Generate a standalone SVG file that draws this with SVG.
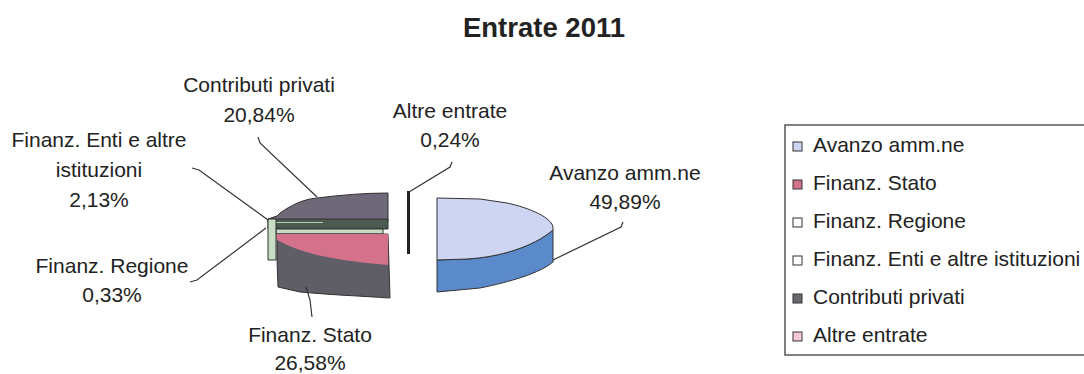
<svg xmlns="http://www.w3.org/2000/svg" width="1084" height="374" viewBox="0 0 1084 374">
<style>
text{font-family:"Liberation Sans",Arial,sans-serif;fill:#222}
.t{font-size:27.5px;font-weight:bold;text-anchor:middle}
.l{font-size:21px;text-anchor:middle}
.g{font-size:21px}
.o{stroke:#333;stroke-width:1;stroke-linejoin:round}
.c{fill:none;stroke:#333;stroke-width:1.2}
.sq{stroke:#333;stroke-width:1}
</style>
<rect width="1084" height="374" fill="#fff"/>
<text class="t" x="544" y="37">Entrate 2011</text>

<g id="slice-contributi">
<path class="o" fill="#6e6878" d="M268,222 L268,219 L277,216 L280,213 C290,206 303,199 317,198 C340,195 365,193 388,193 L388,222 Z"/>
</g>
<g id="slice-enti">
<rect x="268" y="219" width="120" height="10" fill="#4c5a52" class="o"/>
<line x1="274" y1="222.5" x2="323" y2="222.5" stroke="#b9ccb5" stroke-width="1"/>
<rect x="276" y="229" width="107" height="5" fill="#c9dcc5" class="o"/>
</g>
<g id="slice-regione">
<rect x="268" y="219" width="8" height="41" fill="#c9dcc5" class="o"/>
</g>
<g id="slice-stato">
<path class="o" fill="#5f5d65" d="M277,234 L388,234 L390,298 C360,296 333,295 300,292 L278,287 L277,260 Z"/>
<path fill="#d4728c" d="M277,234 L388,234 L388,265 C360,263 330,258 317,255 C305,252 292,248 277,240 Z"/>
</g>
<g id="slice-altre">
<rect x="407" y="191" width="3" height="63" fill="#222"/>
</g>
<g id="slice-avanzo">
<path class="o" fill="#5b8acb" d="M437,260 L467,259 C500,257 533,247 553,230 L553,262 C540,273 510,282 480,288 L437,292 Z"/>
<path class="o" fill="#cdd5f3" d="M437,198 L480,199 L507,203 C530,208 553,218 553,228 L553,230 C533,247 500,257 467,259 L437,260 Z"/>
</g>

<g id="connectors">
<path class="c" d="M258,137 L260,143 L317,197"/>
<path class="c" d="M192,168 L199,170 L268,220"/>
<path class="c" d="M190,282 L197,280 L266,228"/>
<path class="c" d="M306,287 L310,300 L312,317"/>
<path class="c" d="M452,162 L450,167 L409,192"/>
<path class="c" d="M553,260 L621,227 L623,222"/>
</g>

<g id="labels">
<g id="label-contributi"><text class="l" x="259" y="92">Contributi privati</text><text class="l" x="259" y="122">20,84%</text></g>
<g id="label-altre"><text class="l" x="450" y="118">Altre entrate</text><text class="l" x="450" y="147">0,24%</text></g>
<g id="label-avanzo"><text class="l" x="625" y="180">Avanzo amm.ne</text><text class="l" x="625" y="209">49,89%</text></g>
<g id="label-enti"><text class="l" x="99" y="147">Finanz. Enti e altre</text><text class="l" x="99" y="177">istituzioni</text><text class="l" x="99" y="207">2,13%</text></g>
<g id="label-regione"><text class="l" x="112" y="273">Finanz. Regione</text><text class="l" x="112" y="302">0,33%</text></g>
<g id="label-stato"><text class="l" x="310" y="342">Finanz. Stato</text><text class="l" x="310" y="370">26,58%</text></g>
</g>

<g id="legend">
<rect x="785" y="125" width="320" height="230" fill="#fff" stroke="#555" stroke-width="1.5"/>
<rect class="sq" x="793" y="142" width="9" height="9" fill="#cdd5f3"/>
<text class="g" x="813" y="152">Avanzo amm.ne</text>
<rect class="sq" x="793" y="180" width="9" height="9" fill="#d4728c"/>
<text class="g" x="813" y="190">Finanz. Stato</text>
<rect class="sq" x="793" y="218" width="9" height="9" fill="#fff"/>
<text class="g" x="813" y="228">Finanz. Regione</text>
<rect class="sq" x="793" y="256" width="9" height="9" fill="#fff"/>
<text class="g" x="813" y="266">Finanz. Enti e altre istituzioni</text>
<rect class="sq" x="793" y="294" width="9" height="9" fill="#6b6870"/>
<text class="g" x="813" y="304">Contributi privati</text>
<rect class="sq" x="793" y="332" width="9" height="9" fill="#f6c9d6"/>
<text class="g" x="813" y="342">Altre entrate</text>
</g>
</svg>
